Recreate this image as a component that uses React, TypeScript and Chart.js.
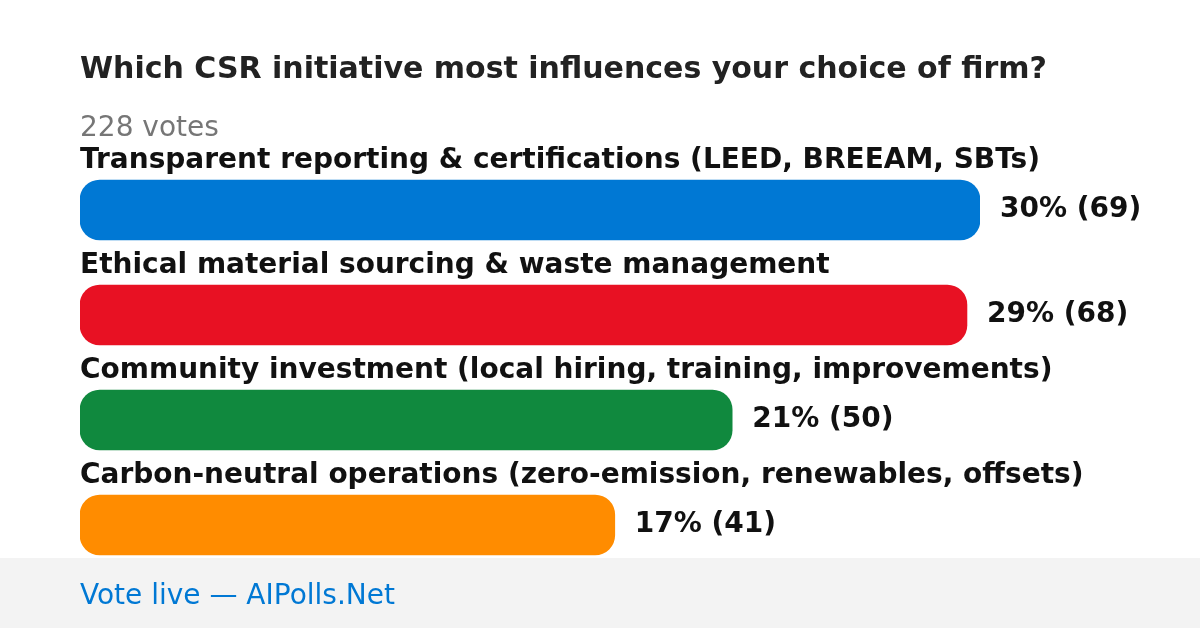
import React, { useEffect, useRef } from "react";
import { Chart, registerables } from "chart.js";

Chart.register(...registerables);

const title = "Which CSR initiative most influences your choice of firm?";
const subtitle = "228 votes";
const footer = "Vote live — AIPolls.Net";
const categories = [
  "Transparent reporting & certifications (LEED, BREEAM, SBTs)",
  "Ethical material sourcing & waste management",
  "Community investment (local hiring, training, improvements)",
  "Carbon-neutral operations (zero-emission, renewables, offsets)",
];
const votes = [69, 68, 50, 41];
const percents = [30, 29, 21, 17];
const colors = ["#0078d4", "#e81123", "#10893e", "#ff8c00"];

const FONT = "'DejaVu Sans', sans-serif";

const textPlugin = {
  id: "pollText",
  beforeDraw(chart: any) {
    const ctx = chart.ctx;
    ctx.save();
    ctx.fillStyle = "#ffffff";
    ctx.fillRect(0, 0, chart.width, chart.height);
    ctx.fillStyle = "#f3f3f3";
    ctx.fillRect(0, 558, chart.width, chart.height - 558);
    ctx.textAlign = "left";
    ctx.textBaseline = "alphabetic";
    ctx.fillStyle = "#222222";
    ctx.font = `bold 30px ${FONT}`;
    ctx.fillText(title, 80, 78);
    ctx.fillStyle = "#767676";
    ctx.font = `28px ${FONT}`;
    ctx.fillText(subtitle, 80, 136);
    ctx.fillStyle = "#0078d4";
    ctx.font = `28px ${FONT}`;
    ctx.fillText(footer, 80, 604);
    ctx.restore();
  },
  afterDatasetsDraw(chart: any) {
    const ctx = chart.ctx;
    const meta = chart.getDatasetMeta(0);
    ctx.save();
    meta.data.forEach((bar: any, i: number) => {
      const top = bar.y - bar.height / 2;
      ctx.fillStyle = "#111111";
      ctx.font = `bold 28px ${FONT}`;
      ctx.textAlign = "left";
      ctx.textBaseline = "alphabetic";
      ctx.fillText(categories[i], 80, top - 12);
      ctx.textBaseline = "middle";
      ctx.fillText(`${percents[i]}% (${votes[i]})`, bar.x + 20, bar.y);
    });
    ctx.restore();
  },
};

export default function App() {
  const ref = useRef<HTMLCanvasElement | null>(null);
  useEffect(() => {
    if (!ref.current) return;
    const chart = new Chart(ref.current, {
      type: "bar",
      data: {
        labels: categories,
        datasets: [
          {
            data: votes,
            backgroundColor: colors,
            borderRadius: 20,
            borderSkipped: false,
            barThickness: 60,
          },
        ],
      },
      options: {
        indexAxis: "y",
        animation: false,
        responsive: false,
        maintainAspectRatio: false,
        devicePixelRatio: 1,
        layout: { padding: { left: 80, right: 220, top: 157.5, bottom: 50.5 } },
        scales: {
          x: { display: false, min: 0, max: Math.max(...votes) },
          y: { display: false },
        },
        plugins: {
          legend: { display: false },
          tooltip: { enabled: false },
          title: { display: false },
        },
      },
      plugins: [textPlugin],
    });
    return () => chart.destroy();
  }, []);
  return (
    <div style={{ position: "fixed", left: 0, top: 0, width: 1200, height: 628, background: "#fff" }}>
      <canvas ref={ref} width={1200} height={628} style={{ display: "block", width: 1200, height: 628 }} />
    </div>
  );
}
